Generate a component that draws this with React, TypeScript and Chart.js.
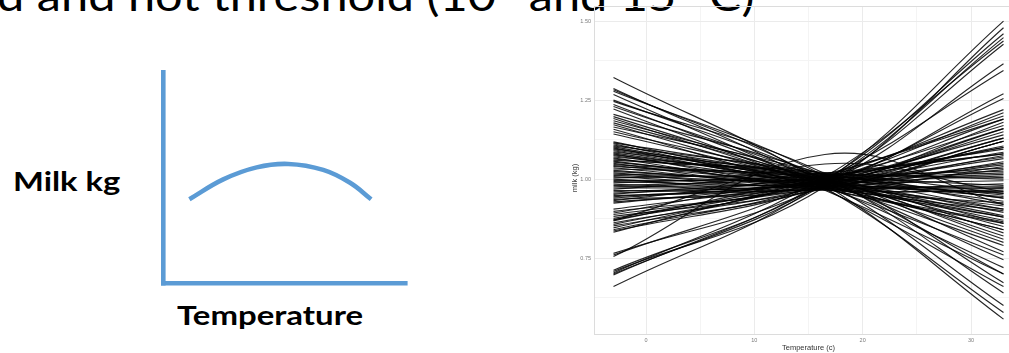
import React, { useEffect, useRef } from "react";
import { Chart, registerables } from "chart.js";

Chart.register(...registerables);

// ---- right chart: milk (kg) response curves over temperature ----
const tempPoints = [-3, 16.5, 33];

const leftMilk = [
  1.322, 1.287, 1.283, 1.278, 1.268, 1.25, 1.246, 1.236, 1.23, 1.222,
  1.205, 1.198, 1.192, 1.185, 1.178, 1.172, 1.165, 1.158, 1.15, 1.143,
  1.118, 1.115, 1.112, 1.108, 1.105, 1.102, 1.099, 1.096, 1.093, 1.09,
  1.086, 1.083, 1.08, 1.077, 1.074, 1.07, 1.067, 1.064, 1.06, 1.057,
  1.054, 1.05, 1.046, 1.043, 1.04, 1.036, 1.032, 1.028, 1.024, 1.02,
  1.016, 1.012, 1.008, 1.004, 1.0, 0.996, 0.992, 0.988, 0.984, 0.98,
  0.976, 0.972, 0.968, 0.964, 0.96, 0.956, 0.952, 0.948, 0.944, 0.94,
  0.936, 0.932, 0.928, 0.924,
  0.905, 0.898, 0.893, 0.888, 0.882, 0.876, 0.872, 0.868, 0.862, 0.857,
  0.852, 0.846, 0.84, 0.836, 0.832, 0.87,
  0.765, 0.76, 0.755, 0.712, 0.708, 0.703, 0.7, 0.697, 0.66,
];

const midMilk = [
  0.983, 0.973, 0.993, 1.01, 0.969, 1.001, 1.018, 0.979, 0.997, 0.965,
  1.012, 0.987, 0.975, 1.004, 0.994, 0.982, 1.015, 0.97, 0.998, 0.99,
  0.979, 1.01, 0.969, 1.0, 1.018, 0.984, 0.973, 1.007, 0.993, 0.976,
  1.015, 0.987, 0.968, 1.003, 0.983, 1.012, 0.972, 0.996, 1.021, 0.98,
  0.99, 0.966, 1.008, 0.986, 0.998, 0.975, 1.017, 0.982, 0.994, 0.97,
  1.005, 0.989, 0.977, 1.014, 0.965, 0.997, 0.984, 1.01, 0.973, 1.001,
  0.991, 0.98, 1.019, 0.969, 0.996, 0.986, 1.007, 0.976, 1.0, 0.99,
  0.972, 1.011, 0.983, 0.994,
  0.993, 0.976, 1.008, 0.984, 0.969, 1.0, 0.99, 1.015, 0.979, 0.997,
  0.973, 1.004, 0.987, 0.982, 1.01, 1.048,
  0.983, 1.001, 1.078, 0.99, 0.976, 1.007, 0.984, 0.996, 0.993,
];

const rightMilk = [
  0.557, 0.578, 0.6, 0.64, 0.66, 0.7, 0.672, 0.72, 0.745, 0.7,
  0.77, 0.79, 0.76, 0.82, 0.8, 0.84, 0.83, 0.86, 0.85, 0.88,
  0.88, 0.905, 0.865, 0.895, 0.92, 0.87, 0.9, 0.93, 0.885, 0.84,
  0.94, 0.905, 0.925, 0.95, 0.915, 0.94, 0.96, 0.81, 0.955, 0.975,
  0.945, 0.965, 0.98, 0.955, 0.86, 0.97, 1.0, 0.975, 1.01, 0.985,
  1.02, 0.995, 1.03, 1.005, 1.04, 1.015, 1.05, 1.025, 1.12, 1.035,
  1.07, 1.045, 1.08, 1.055, 1.16, 1.065, 1.1, 1.075, 1.19, 1.085,
  1.12, 1.095, 1.13, 1.105,
  1.1, 1.13, 1.08, 1.15, 1.12, 1.17, 1.14, 1.19, 1.16, 1.21,
  1.18, 1.22, 1.255, 1.27, 1.2, 0.96,
  1.365, 1.344, 0.92, 1.448, 1.479, 1.437, 1.427, 1.46, 1.5,
];

const xMajor = [0, 10, 20, 30];
const xMinor = [5, 15, 25];
const yMajor = [0.75, 1.0, 1.25, 1.5];
const yMinor = [0.625, 0.875, 1.125, 1.375];
const xLimits = [-4.8, 34.8];
const yLimits = [0.51, 1.547];

// ---- left sketch: milk vs temperature (conceptual curve) ----
const sketchX = [10.9, 24.9, 38.7, 51.8, 66.2, 77.3, 86.0];
const sketchY = [39.7, 49.1, 54.8, 56.4, 53.6, 47.5, 39.7];

const BLUE = "#5B9BD5";
const GRID_MAJOR = "#ebebeb";
const GRID_MINOR = "#f4f4f4";
const PANEL = "#dcdcdc";

function LinesChart() {
  const ref = useRef<HTMLCanvasElement>(null);
  useEffect(() => {
    const datasets = leftMilk.map((l, i) => ({
      data: [
        { x: tempPoints[0], y: l },
        { x: tempPoints[1], y: midMilk[i] },
        { x: tempPoints[2], y: rightMilk[i] },
      ],
      borderColor: "rgba(0,0,0,0.85)",
      borderWidth: 1.15,
      pointRadius: 0,
      tension: 0.4,
      fill: false,
    }));
    const chart = new Chart(ref.current as HTMLCanvasElement, {
      type: "line",
      data: { datasets },
      options: {
        animation: false,
        responsive: false,
        events: [],
        layout: { padding: { top: 3, left: 0, right: 0, bottom: 0 } },
        plugins: { legend: { display: false }, tooltip: { enabled: false } },
        scales: {
          x: {
            type: "linear",
            min: xLimits[0],
            max: xLimits[1],
            afterBuildTicks: (s: any) => {
              s.ticks = [...xMajor, ...xMinor].sort((a, b) => a - b).map((v) => ({ value: v }));
            },
            afterFit: (s: any) => {
              s.height = 19;
            },
            ticks: {
              padding: 3,
              autoSkip: false,
              maxRotation: 0,
              color: "#7a7a7a",
              font: { size: 5.5, family: "Liberation Sans" },
              callback: (v: any) => (xMajor.includes(Number(v)) ? String(v) : ""),
            },
            grid: {
              drawTicks: false,
              color: (ctx: any) => (ctx.tick && xMajor.includes(ctx.tick.value) ? GRID_MAJOR : GRID_MINOR),
              lineWidth: 1,
            },
            border: { display: true, color: PANEL, width: 1 },
            title: {
              display: true,
              text: "Temperature (c)",
              color: "#333",
              font: { size: 7.5, family: "Liberation Sans" },
              padding: { top: 0, bottom: 0.5 },
            },
          },
          y: {
            type: "linear",
            min: yLimits[0],
            max: yLimits[1],
            afterBuildTicks: (s: any) => {
              s.ticks = [...yMinor, ...yMajor, yLimits[1]].sort((a, b) => a - b).map((v) => ({ value: v }));
            },
            afterFit: (s: any) => {
              s.width = 34;
            },
            ticks: {
              padding: 3,
              autoSkip: false,
              color: "#7a7a7a",
              font: { size: 5.5, family: "Liberation Sans" },
              callback: (v: any) => (yMajor.includes(Number(v)) ? Number(v).toFixed(2) : ""),
            },
            grid: {
              drawTicks: false,
              color: (ctx: any) => {
                const v = ctx.tick ? ctx.tick.value : null;
                if (v === yLimits[1]) return PANEL;
                return yMajor.includes(v) ? GRID_MAJOR : GRID_MINOR;
              },
              lineWidth: 1,
            },
            border: { display: true, color: PANEL, width: 1 },
            title: { display: false },
          },
        },
      },
    });
    return () => chart.destroy();
  }, []);
  return (
    <canvas
      ref={ref}
      width={463}
      height={353}
      style={{ position: "absolute", left: 560, top: 0, width: 463, height: 353 }}
    />
  );
}

function SketchChart() {
  const ref = useRef<HTMLCanvasElement>(null);
  useEffect(() => {
    const axisCommon = {
      type: "linear" as const,
      min: 0,
      max: 100,
      ticks: { display: false },
      grid: { display: false, drawTicks: false, lineWidth: 4.6 },
      border: { display: true, color: BLUE, width: 4.6 },
    };
    const chart = new Chart(ref.current as HTMLCanvasElement, {
      type: "line",
      data: {
        datasets: [
          {
            data: sketchX.map((x, i) => ({ x, y: sketchY[i] })),
            borderColor: BLUE,
            borderWidth: 4.6,
            borderCapStyle: "butt",
            pointRadius: 0,
            tension: 0.4,
            fill: false,
          },
        ],
      },
      options: {
        animation: false,
        responsive: false,
        events: [],
        layout: { padding: { left: 13, top: 12, right: 15, bottom: 12 } },
        plugins: { legend: { display: false }, tooltip: { enabled: false } },
        scales: {
          x: { ...axisCommon, afterFit: (s: any) => { s.height = 0; } },
          y: { ...axisCommon, afterFit: (s: any) => { s.width = 0; } },
        },
      },
    });
    return () => chart.destroy();
  }, []);
  return (
    <canvas
      ref={ref}
      width={270}
      height={235}
      style={{ position: "absolute", left: 150, top: 60, width: 270, height: 235 }}
    />
  );
}

const labelStyle = (left: number, top: number, scaleX: number): React.CSSProperties => ({
  position: "absolute",
  left,
  top,
  fontFamily: "Lato",
  fontWeight: 700,
  fontSize: 27,
  lineHeight: 1,
  whiteSpace: "nowrap",
  color: "#000",
  transform: `scaleX(${scaleX})`,
  transformOrigin: "left top",
});

export default function App() {
  return (
    <div
      style={{
        position: "fixed",
        left: 0,
        top: 0,
        width: 1009,
        height: 353,
        overflow: "hidden",
        background: "#fff",
      }}
    >
      <div
        style={{
          position: "absolute",
          left: -3,
          top: -26,
          fontFamily: "Lato",
          fontSize: 42,
          lineHeight: 1,
          whiteSpace: "nowrap",
          color: "#000",
          transform: "scaleX(1.16)",
          transformOrigin: "left top",
        }}
      >
        d and hot threshold (10 °and 15 °C)
      </div>
      <div style={labelStyle(13, 167, 1.21)}>Milk kg</div>
      <div style={labelStyle(177, 301, 1.22)}>Temperature</div>
      <SketchChart />
      <LinesChart />
      <div
        style={{
          position: "absolute",
          left: 545,
          top: 174,
          width: 60,
          textAlign: "center",
          fontFamily: "Liberation Sans",
          fontSize: 7.5,
          lineHeight: "8px",
          color: "#333",
          transform: "rotate(-90deg)",
          whiteSpace: "nowrap",
        }}
      >
        milk (kg)
      </div>
    </div>
  );
}
